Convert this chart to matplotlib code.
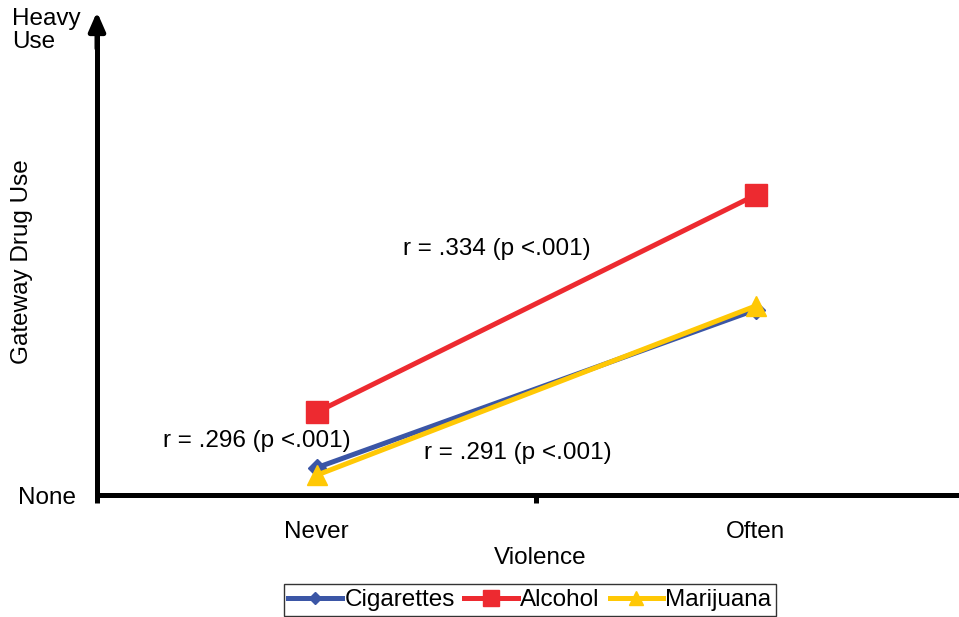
import matplotlib
matplotlib.use("Agg")
import matplotlib.pyplot as plt

plt.rcParams['font.family'] = ['Liberation Sans', 'DejaVu Sans']

categories = ["Never", "Often"]
cigarettes = [0.29, 1.97]
alcohol = [0.88, 3.19]
marijuana = [0.21, 2.01]
annotations = ["r = .334 (p <.001)", "r = .296 (p <.001)", "r = .291 (p <.001)"]

W, H = 959, 617
fig = plt.figure(figsize=(W / 100, H / 100), dpi=100)
ax = fig.add_axes([97 / W, 1 - 495 / H, (975 - 97) / W, 470 / H])

xpos = [0.5, 1.5]
fs = 17.5
ax.plot(xpos, cigarettes, color="#3B56A6", lw=3.6, marker="D", ms=9, label="Cigarettes", zorder=3)
ax.plot(xpos, alcohol, color="#ED2A30", lw=3.6, marker="s", ms=16, label="Alcohol", zorder=4)
ax.plot(xpos, marijuana, color="#FFC805", lw=3.6, marker="^", ms=15, label="Marijuana", zorder=5)

ax.set_xlim(0, 2)
ax.set_ylim(0, 5)
for s in ["top", "right"]:
    ax.spines[s].set_visible(False)
ax.spines["bottom"].set_linewidth(3.6)
ax.spines["left"].set_linewidth(3.6)
ax.spines["left"].set_bounds(0, 5)

ax.set_xticks(xpos)
ax.set_xticklabels(categories, fontsize=fs)
ax.tick_params(axis="x", which="major", length=0, pad=19)
ax.set_xticks([0, 1, 2], minor=True)
ax.tick_params(axis="x", which="minor", length=6, width=3.6, direction="out")
ax.set_yticks([])

# arrow head on y axis
ax.annotate("", xy=(0, 1.028), xytext=(0, 0.95), xycoords="axes fraction",
            arrowprops=dict(arrowstyle="-|>,head_width=0.35,head_length=0.8", lw=3.6,
                            color="black", shrinkA=0, shrinkB=0, mutation_scale=14),
            annotation_clip=False)

def ft(x, y, s, **kw):
    fig.text(x / W, 1 - y / H, s, fontsize=fs, **kw)

ft(12, 8, "Heavy\nUse", ha="left", va="top", linespacing=1.05)
ft(18, 498, "None", ha="left", va="center")
ft(22, 262, "Gateway Drug Use", rotation=90, ha="center", va="center")
ft(540, 558, "Violence", ha="center", va="center")
ft(497, 249, annotations[0], ha="center", va="center")
ft(257, 441, annotations[1], ha="center", va="center")
ft(518, 453, annotations[2], ha="center", va="center")

leg = fig.legend(loc="center", bbox_to_anchor=(530 / W, 1 - 600 / H), ncol=3, fontsize=fs,
                 frameon=True, fancybox=False, edgecolor="black", handlelength=2.2,
                 handletextpad=0.1, columnspacing=0.4, borderpad=0.2, markerscale=0.7,
                 borderaxespad=0)
leg.get_frame().set_linewidth(1.0)

fig.savefig("out.png", dpi=100)
